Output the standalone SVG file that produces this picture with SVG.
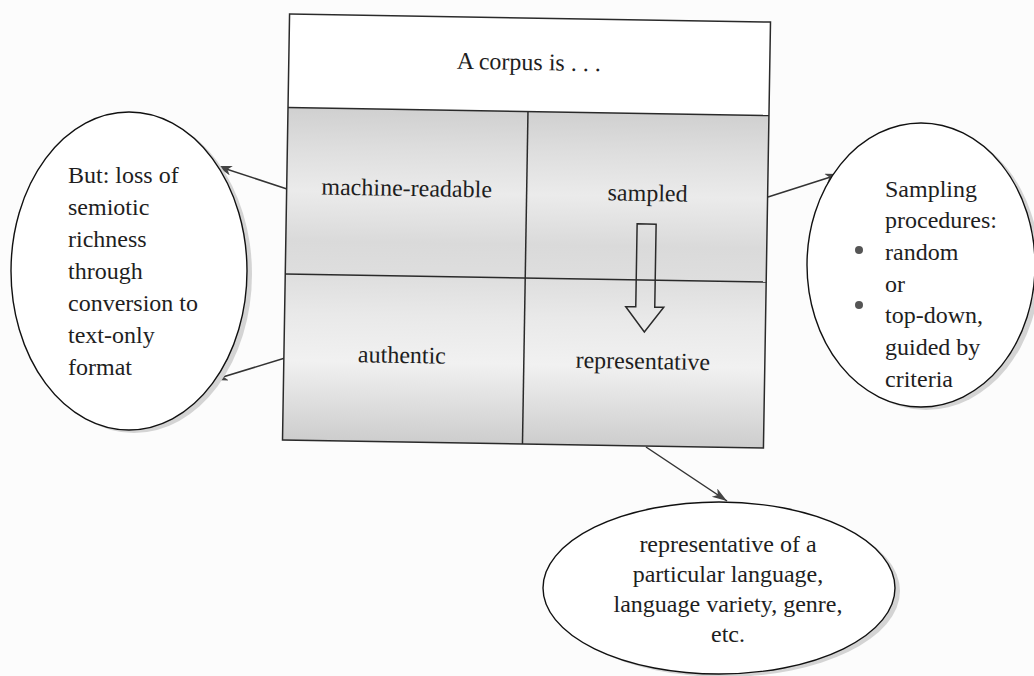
<svg xmlns="http://www.w3.org/2000/svg" width="1034" height="676" viewBox="0 0 1034 676">
<style>
  .t { font-family: "Liberation Serif", "DejaVu Serif", serif; font-size: 24px; fill: #1e1e1e; }
  .c { text-anchor: middle; }
  .line { stroke: #2a2a2a; stroke-width: 1.5; fill: none; }
  .conn { stroke: #333; stroke-width: 1.5; fill: none; marker-end: url(#ah); }
  .ell { fill: #fff; stroke: #111; stroke-width: 1.4; }
  .shadow { fill: #d4d4d4; stroke: none; }
</style>
<defs>
  <marker id="ah" markerUnits="userSpaceOnUse" markerWidth="16" markerHeight="12" refX="15" refY="5" orient="auto">
    <path d="M0,0 L15,5 L0,10 L4,5 Z" fill="#444"/>
  </marker>
  <linearGradient id="gray" x1="0" y1="0" x2="0" y2="1">
    <stop offset="0" stop-color="#d0d0d0"/>
    <stop offset="0.12" stop-color="#dedede"/>
    <stop offset="0.25" stop-color="#ebebeb"/>
    <stop offset="0.4" stop-color="#dadada"/>
    <stop offset="0.5" stop-color="#dedede"/>
    <stop offset="0.62" stop-color="#e9e9e9"/>
    <stop offset="0.76" stop-color="#f1f1f1"/>
    <stop offset="0.9" stop-color="#dcdcdc"/>
    <stop offset="1" stop-color="#cdcdcd"/>
  </linearGradient>
</defs>
<rect x="0" y="0" width="1034" height="676" fill="#fcfcfc"/>

<g id="connectors">
  <line class="conn" x1="287" y1="189" x2="217" y2="166"/>
  <line class="conn" x1="285" y1="358" x2="213" y2="380"/>
  <line class="conn" x1="768" y1="197" x2="840" y2="174"/>
  <line class="conn" x1="646" y1="447" x2="727" y2="501"/>
</g>

<g id="corpus-box" transform="rotate(0.95 526 231)">
  <rect x="286" y="18" width="481" height="94" fill="#ffffff"/>
  <rect x="286" y="111.5" width="481" height="332.5" fill="url(#gray)"/>
  <rect class="line" x="286" y="18" width="481" height="426"/>
  <line class="line" x1="286" y1="111.5" x2="767" y2="111.5"/>
  <line class="line" x1="286" y1="278" x2="767" y2="278"/>
  <line class="line" x1="526" y1="111.5" x2="526" y2="444"/>
  <text class="t c" x="526" y="70">A corpus is . . .</text>
  <g id="cell-machine-readable"><text class="t c" x="406" y="198">machine-readable</text></g>
  <g id="cell-sampled"><text class="t c" x="647" y="199">sampled</text></g>
  <g id="cell-authentic"><text class="t c" x="404" y="365">authentic</text></g>
  <g id="cell-representative"><text class="t c" x="645" y="367">representative</text></g>
  <path id="hollow-arrow" class="line" d="M637,222 L656,222 L656,305 L665,305 L646,330 L627,305 L637,305 Z"/>
</g>

<g id="node-loss">
  <ellipse class="shadow" cx="134" cy="274" rx="118" ry="159"/>
  <ellipse class="ell" cx="129" cy="271" rx="118" ry="159"/>
  <text class="t" x="68" y="183">But: loss of</text>
  <text class="t" x="68" y="215">semiotic</text>
  <text class="t" x="68" y="247">richness</text>
  <text class="t" x="68" y="279">through</text>
  <text class="t" x="68" y="311">conversion to</text>
  <text class="t" x="68" y="343">text-only</text>
  <text class="t" x="68" y="375">format</text>
</g>

<g id="node-sampling">
  <ellipse class="shadow" cx="926" cy="268" rx="114" ry="142"/>
  <ellipse class="ell" cx="921" cy="265" rx="114" ry="142"/>
  <text class="t" x="885" y="197">Sampling</text>
  <text class="t" x="885" y="228">procedures:</text>
  <circle cx="859" cy="250" r="4" fill="#555"/>
  <text class="t" x="885" y="260">random</text>
  <text class="t" x="885" y="292">or</text>
  <circle cx="859" cy="305" r="4" fill="#555"/>
  <text class="t" x="885" y="323">top-down,</text>
  <text class="t" x="885" y="355">guided by</text>
  <text class="t" x="885" y="387">criteria</text>
</g>

<g id="node-representative">
  <ellipse class="shadow" cx="724" cy="591" rx="176" ry="86"/>
  <ellipse class="ell" cx="719" cy="588" rx="176" ry="86"/>
  <text class="t c" x="728" y="552">representative of a</text>
  <text class="t c" x="728" y="582">particular language,</text>
  <text class="t c" x="728" y="612">language variety, genre,</text>
  <text class="t c" x="728" y="642">etc.</text>
</g>
</svg>
